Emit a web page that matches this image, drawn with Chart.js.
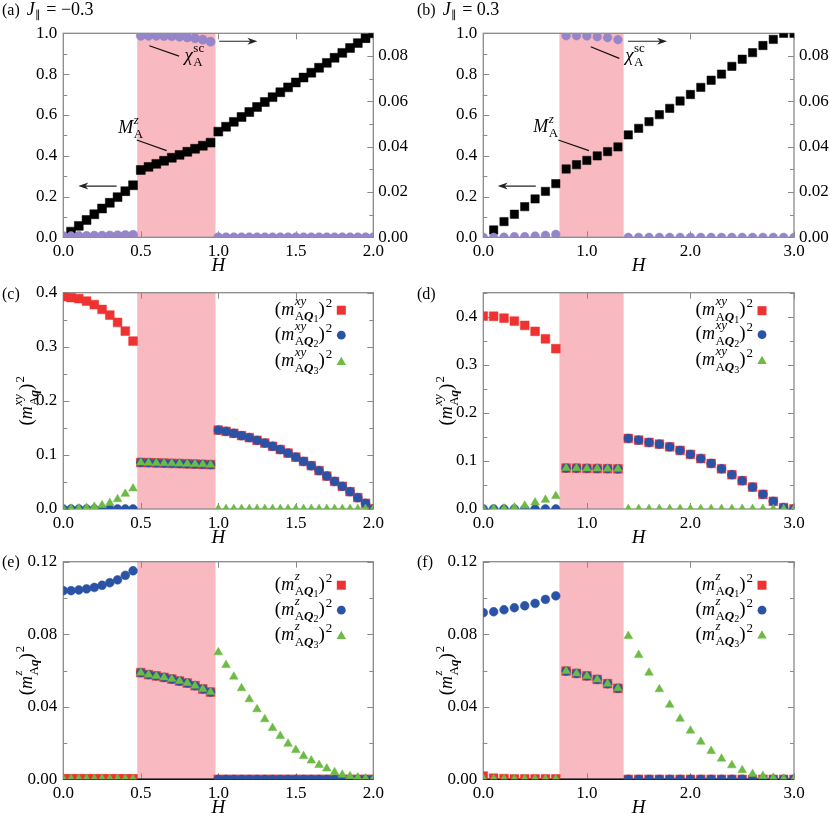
<!DOCTYPE html>
<html>
<head>
<meta charset="utf-8">
<script src="https://cdn.jsdelivr.net/npm/chart.js@4.4.1/dist/chart.umd.min.js"></script>
<style>
  body { margin: 0; background: #fff; width: 830px; height: 817px; position: relative; overflow: hidden; }
  canvas { position: absolute; }
</style>
</head>
<body>
<canvas id="pa"></canvas>
<canvas id="pb"></canvas>
<canvas id="pc"></canvas>
<canvas id="pd"></canvas>
<canvas id="pe"></canvas>
<canvas id="pf"></canvas>
<script>
// field values H
const hA = [0, 0.05, 0.1, 0.15, 0.2, 0.25, 0.3, 0.35, 0.4, 0.45, 0.5, 0.55, 0.6, 0.65, 0.7, 0.75, 0.8, 0.85, 0.9, 0.95,
  1.0, 1.05, 1.1, 1.15, 1.2, 1.25, 1.3, 1.35, 1.4, 1.45, 1.5, 1.55, 1.6, 1.65, 1.7, 1.75, 1.8, 1.85, 1.9, 1.95, 2.0]
const hB = [0, 0.1, 0.2, 0.3, 0.4, 0.5, 0.6, 0.7, 0.8, 0.9, 1.0, 1.1, 1.2, 1.3, 1.4, 1.5, 1.6, 1.7, 1.8, 1.9,
  2.0, 2.1, 2.2, 2.3, 2.4, 2.5, 2.6, 2.7, 2.8, 2.9, 3.0]

// phase boundaries (pink region)
const bandA = [0.477, 0.982]
const bandB = [0.735, 1.355]

// (a) J = -0.3
const mzA = [null, 0.028, 0.056, 0.085, 0.113, 0.141, 0.169, 0.197, 0.226, 0.255,
  0.330, 0.345, 0.360, 0.375, 0.390, 0.404, 0.419, 0.434, 0.449, 0.464,
  0.518, 0.542, 0.566, 0.590, 0.614, 0.639, 0.663, 0.687, 0.711, 0.735, 0.759, 0.783, 0.807, 0.831, 0.855,
  0.880, 0.904, 0.928, 0.952, 0.976, 1.000]
const chiA = [0.0005, 0.0005, 0.0006, 0.0006, 0.0007, 0.0007, 0.0008, 0.0009, 0.0010, 0.0011,
  0.0889, 0.0889, 0.0889, 0.0888, 0.0887, 0.0885, 0.0882, 0.0878, 0.0872, 0.0863,
  0, 0, 0, 0, 0, 0, 0, 0, 0, 0, 0, 0, 0, 0, 0, 0, 0, 0, 0, 0, 0]

// (b) J = 0.3
const mzB = [null, 0.036, 0.077, 0.113, 0.150, 0.188, 0.225, 0.263,
  0.335, 0.356, 0.377, 0.399, 0.420, 0.443,
  0.502, 0.534, 0.567, 0.601, 0.632, 0.668, 0.700, 0.735, 0.770, 0.800, 0.838, 0.873, 0.905, 0.940, 0.970, 1.000, 1.000]
const chiB = [0, 0, 0.0001, 0.0003, 0.0003, 0.0006, 0.0009, 0.0013,
  0.0889, 0.0889, 0.0888, 0.0885, 0.0881, 0.0872,
  0, 0, 0, 0, 0, 0, 0, 0, 0, 0, 0, 0, 0, 0, 0, 0, 0]

// (c) xy components, J = -0.3
const xyQ1A = [0.3926, 0.3910, 0.3890, 0.3846, 0.3780, 0.3690, 0.3587, 0.3450, 0.3290, 0.3106,
  0.0860, 0.0856, 0.0852, 0.0848, 0.0844, 0.0840, 0.0836, 0.0831, 0.0826, 0.0820,
  0.1460, 0.1436, 0.1400, 0.1356, 0.1320, 0.1270, 0.1220, 0.1160, 0.1100, 0.1035, 0.0960, 0.0880, 0.0800,
  0.0710, 0.0610, 0.0510, 0.0420, 0.0320, 0.0210, 0.0105, 0.0000]
const xyQ2A = [0, 0, 0, 0, 0, 0, 0, 0, 0, 0,
  0.0860, 0.0856, 0.0852, 0.0848, 0.0844, 0.0840, 0.0836, 0.0831, 0.0826, 0.0820,
  0.1460, 0.1436, 0.1400, 0.1356, 0.1320, 0.1270, 0.1220, 0.1160, 0.1100, 0.1035, 0.0960, 0.0880, 0.0800,
  0.0710, 0.0610, 0.0510, 0.0420, 0.0320, 0.0210, 0.0105, 0.0000]
const xyQ3A = [0, 0.0005, 0.0010, 0.0020, 0.0040, 0.0070, 0.0110, 0.0180, 0.0280, 0.0380,
  0.0860, 0.0856, 0.0852, 0.0848, 0.0844, 0.0840, 0.0836, 0.0831, 0.0826, 0.0820,
  0, 0, 0, 0, 0, 0, 0, 0, 0, 0, 0, 0, 0, 0, 0, 0, 0, 0, 0, 0, 0]

// (d) xy components, J = 0.3
const xyQ1B = [0.4014, 0.4010, 0.3970, 0.3910, 0.3820, 0.3696, 0.3540, 0.3336,
  0.0852, 0.0848, 0.0845, 0.0842, 0.0838, 0.0835,
  0.1467, 0.1433, 0.1384, 0.1350, 0.1294, 0.1218, 0.1135, 0.1050, 0.0948, 0.0837, 0.0713, 0.0588, 0.0457,
  0.0304, 0.0160, 0.0030, 0.0000]
const xyQ2B = [0, 0, 0, 0, 0, 0, 0, 0,
  0.0852, 0.0848, 0.0845, 0.0842, 0.0838, 0.0835,
  0.1467, 0.1433, 0.1384, 0.1350, 0.1294, 0.1218, 0.1135, 0.1050, 0.0948, 0.0837, 0.0713, 0.0588, 0.0457,
  0.0304, 0.0160, 0.0030, 0.0000]
const xyQ3B = [0, 0.0003, 0.0010, 0.0030, 0.0070, 0.0135, 0.0190, 0.0270,
  0.0852, 0.0848, 0.0845, 0.0842, 0.0838, 0.0835,
  0, 0, 0, 0, 0, 0, 0, 0, 0, 0, 0, 0, 0, 0, 0, 0, 0]

// (e) z components, J = -0.3
const zQ1A = [0.0003, 0.0003, 0.0003, 0.0003, 0.0003, 0.0003, 0.0003, 0.0003, 0.0003, 0.0003,
  0.0588, 0.0577, 0.0570, 0.0562, 0.0553, 0.0542, 0.0531, 0.0516, 0.0498, 0.0481,
  0, 0, 0, 0, 0, 0, 0, 0, 0, 0, 0, 0, 0, 0, 0, 0, 0, 0, 0, 0, 0]
const zQ2A = [0.1040, 0.1040, 0.1044, 0.1050, 0.1058, 0.1070, 0.1084, 0.1100, 0.1125, 0.1150,
  0.0588, 0.0577, 0.0570, 0.0562, 0.0553, 0.0542, 0.0531, 0.0516, 0.0498, 0.0481,
  0, 0, 0, 0, 0, 0, 0, 0, 0, 0, 0, 0, 0, 0, 0, 0, 0, 0, 0, 0, 0]
const zQ3A = [0.0002, 0.0002, 0.0002, 0.0002, 0.0002, 0.0002, 0.0002, 0.0002, 0.0002, 0.0002,
  0.0588, 0.0577, 0.0570, 0.0562, 0.0553, 0.0542, 0.0531, 0.0516, 0.0498, 0.0481,
  0.0700, 0.0630, 0.0566, 0.0502, 0.0441, 0.0386, 0.0331, 0.0283, 0.0239, 0.0196, 0.0162, 0.0128, 0.0103,
  0.0079, 0.0059, 0.0039, 0.0025, 0.0017, 0.0010, 0.0004, 0.0001]

// (f) z components, J = 0.3
const zQ1B = [0.0018, 0.0006, 0.0004, 0.0002, 0.0002, 0.0002, 0.0002, 0.0002,
  0.0597, 0.0584, 0.0570, 0.0551, 0.0527, 0.0502,
  0, 0, 0, 0, 0, 0, 0, 0, 0, 0, 0, 0, 0, 0, 0, 0, 0]
const zQ2B = [0.0919, 0.0924, 0.0935, 0.0946, 0.0957, 0.0970, 0.0992, 0.1012,
  0.0597, 0.0584, 0.0570, 0.0551, 0.0527, 0.0502,
  0, 0, 0, 0, 0, 0, 0, 0, 0, 0, 0, 0, 0, 0, 0, 0, 0]
const zQ3B = [0.0003, 0.0002, 0.0001, 0.0001, 0.0001, 0.0001, 0.0001, 0.0001,
  0.0597, 0.0584, 0.0570, 0.0551, 0.0527, 0.0502,
  0.0790, 0.0685, 0.0588, 0.0496, 0.0411, 0.0334, 0.0268, 0.0207, 0.0156, 0.0114, 0.0077, 0.0050, 0.0029,
  0.0018, 0.0008, 0.0003, 0.0000]

const qIndex = ['1', '2', '3']

const RED = '#ee3232', BLUE = '#2a52a5', GREEN = '#6dbb45', PURPLE = '#9585c9', PINK = '#f8b9c0', FRAME = '#8a8a8a'
const SERIF = "'Liberation Serif', serif"
const fr = s => `${s}px ${SERIF}`
const fi = s => `italic ${s}px ${SERIF}`
const fbi = s => `italic bold ${s}px ${SERIF}`

// layout of the 6 panels (page pixels)
const COLS = [{cx: 0, left: 63.3, right: 373.3}, {cx: 415, left: 483.3, right: 794}]
const ROWS = [
  {cy: 0, ch: 285, top: 33.3, bottom: 237.3},
  {cy: 270, ch: 285, top: 292.7, bottom: 509},
  {cy: 540, ch: 277, top: 561.7, bottom: 779.3}
]

// ---- little math-text helper ----
function runW(ctx, r) {
  if (r.stack) return Math.max(runsW(ctx, r.sup), runsW(ctx, r.sub))
  ctx.font = r.f
  return ctx.measureText(r.t).width + (r.sp || 0)
}
function runsW(ctx, runs) {
  let w = 0
  runs.forEach(r => { w += runW(ctx, r) })
  return w
}
function drawRuns(ctx, runs, x, y) {
  runs.forEach(r => {
    if (r.stack) {
      drawRuns(ctx, r.sup, x, y + r.supDy)
      drawRuns(ctx, r.sub, x, y + r.subDy)
      x += runW(ctx, r)
    } else {
      ctx.font = r.f
      ctx.fillText(r.t, x, y + (r.dy || 0))
      x += ctx.measureText(r.t).width + (r.sp || 0)
    }
  })
}
function mRuns(sup, q, idx) {
  const sub = [{t: 'A', f: fr(13)}, {t: q, f: fbi(13)}]
  if (idx) sub.push({t: idx, f: fr(10), dy: 2})
  return [
    {t: '(', f: fr(19)}, {t: 'm', f: fi(18), sp: 0.5},
    {stack: true, sup: [{t: sup, f: fi(13)}], sub, supDy: -10, subDy: 5.5},
    {t: ')', f: fr(19), sp: 1}, {t: '2', f: fr(13), dy: -8}
  ]
}
const chiRuns = [{t: 'χ', f: fi(19), sp: 0.5},
  {stack: true, sup: [{t: 'sc', f: fr(13)}], sub: [{t: 'A', f: fr(13)}], supDy: -9, subDy: 5}]
const mzRuns = [{t: 'M', f: fi(18), sp: 0.5},
  {stack: true, sup: [{t: 'z', f: fi(13)}], sub: [{t: 'A', f: fr(13)}], supDy: -9, subDy: 5}]

function marker(ctx, style, x, y, color) {
  ctx.fillStyle = color
  ctx.beginPath()
  if (style === 'rect') ctx.rect(x - 4.5, y - 4.5, 9, 9)
  else if (style === 'circle') ctx.arc(x, y, 4.4, 0, Math.PI * 2)
  else { ctx.moveTo(x, y - 5); ctx.lineTo(x + 4.7, y + 3.3); ctx.lineTo(x - 4.7, y + 3.3); ctx.closePath() }
  ctx.fill()
}

function arrow(ctx, x0, y0, x1, y1) {
  const a = Math.atan2(y1 - y0, x1 - x0)
  ctx.strokeStyle = '#222'; ctx.fillStyle = '#222'; ctx.lineWidth = 1.2
  ctx.beginPath(); ctx.moveTo(x0, y0); ctx.lineTo(x1 - 6 * Math.cos(a), y1 - 6 * Math.sin(a)); ctx.stroke()
  ctx.beginPath()
  ctx.moveTo(x1, y1)
  ctx.lineTo(x1 - 10 * Math.cos(a) - 3.5 * Math.sin(a), y1 - 10 * Math.sin(a) + 3.5 * Math.cos(a))
  ctx.lineTo(x1 - 7 * Math.cos(a), y1 - 7 * Math.sin(a))
  ctx.lineTo(x1 - 10 * Math.cos(a) + 3.5 * Math.sin(a), y1 - 10 * Math.sin(a) - 3.5 * Math.cos(a))
  ctx.closePath(); ctx.fill()
}

function panelPlugin(p) {
  const col = COLS[p.col], row = ROWS[p.row]
  return {
    id: 'deco_' + p.id,
    beforeDatasetsDraw(chart) {
      const {ctx, chartArea: ca, scales} = chart
      const sx = scales.x, sy = scales.y
      ctx.save()
      ctx.fillStyle = PINK
      const b0 = sx.getPixelForValue(p.band[0]), b1 = sx.getPixelForValue(p.band[1])
      ctx.fillRect(b0, ca.top, b1 - b0, ca.bottom - ca.top)
      ctx.strokeStyle = FRAME
      ctx.lineWidth = 1.3
      ctx.strokeRect(ca.left, ca.top, ca.right - ca.left, ca.bottom - ca.top)
      ctx.lineWidth = 1
      ctx.beginPath()
      // left ticks (major + minor), mirrored unless there is a right axis
      for (let v = 0; v <= p.yMax + 1e-9; v += p.yMinor) {
        const py = Math.round(sy.getPixelForValue(v)) + 0.5
        const isMajor = Math.abs(v / p.yStep - Math.round(v / p.yStep)) < 1e-6
        const len = isMajor ? 6 : 4
        ctx.moveTo(ca.left, py); ctx.lineTo(ca.left + len, py)
        if (!p.y2) { ctx.moveTo(ca.right, py); ctx.lineTo(ca.right - len, py) }
      }
      if (p.y2) {
        const s2 = scales.y2
        for (let v = 0; v <= 0.09 + 1e-9; v += 0.01) {
          const py = Math.round(s2.getPixelForValue(v)) + 0.5
          const isMajor = Math.abs(v / 0.02 - Math.round(v / 0.02)) < 1e-6
          ctx.moveTo(ca.right, py); ctx.lineTo(ca.right - (isMajor ? 6 : 4), py)
        }
      }
      sx.ticks.forEach(t => {
        const px = Math.round(sx.getPixelForValue(t.value)) + 0.5
        ctx.moveTo(px, ca.bottom); ctx.lineTo(px, ca.bottom - 6)
        ctx.moveTo(px, ca.top); ctx.lineTo(px, ca.top + 6)
      })
      ctx.stroke()
      if (p.zeroLine) {
        ctx.strokeStyle = '#111'; ctx.lineWidth = 1.4
        const py = sy.getPixelForValue(0)
        ctx.beginPath(); ctx.moveTo(ca.left, py); ctx.lineTo(ca.right, py); ctx.stroke()
      }
      ctx.restore()
    },
    afterDatasetsDraw(chart) {
      const {ctx, chartArea: ca, scales} = chart
      const sx = scales.x, sy = scales.y
      ctx.save()
      ctx.fillStyle = '#000'
      ctx.textAlign = 'left'
      ctx.textBaseline = 'alphabetic'
      // panel label
      const lab = [{t: '(' + p.label + ')', f: fr(16), sp: 7}]
      if (p.J) lab.push({t: 'J', f: fi(18), sp: 0.5}, {t: '∥', f: fr(11), dy: 3, sp: 5}, {t: '= ' + p.J, f: fr(18)})
      drawRuns(ctx, lab, 2, p.labelY - row.cy)
      // x title
      ctx.font = fi(19)
      ctx.textAlign = 'center'
      ctx.fillText('H', (ca.left + ca.right) / 2, ca.bottom + 34)
      ctx.textAlign = 'left'
      // y title
      if (p.ytitle) {
        ctx.save()
        ctx.translate(ca.left - 31, (ca.top + ca.bottom) / 2)
        ctx.rotate(-Math.PI / 2)
        const runs = mRuns(p.ytitle, 'q')
        drawRuns(ctx, runs, -runsW(ctx, runs) / 2, 0)
        ctx.restore()
      }
      // legend
      if (p.legend) {
        p.legend.forEach((it, i) => {
          const y = ca.top + p.legendY[i]
          const runs = mRuns(p.ytitle, 'Q', qIndex[i])
          ctx.fillStyle = '#000'
          drawRuns(ctx, runs, ca.right - 41 - runsW(ctx, runs), y + 4.5)
          marker(ctx, it.style, ca.right - 32, y, it.color)
        })
      }
      // annotations for (a), (b)
      if (p.ann) {
        const X = v => sx.getPixelForValue(v), Y = v => sy.getPixelForValue(v)
        p.ann.arrows.forEach(a => arrow(ctx, X(a[0]), Y(a[1]), X(a[2]), Y(a[3])))
        ctx.strokeStyle = '#111'; ctx.lineWidth = 1.2
        ctx.beginPath()
        ctx.moveTo(X(p.ann.chiLine[0]), Y(p.ann.chiLine[1])); ctx.lineTo(X(p.ann.chiLine[2]), Y(p.ann.chiLine[3]))
        ctx.moveTo(X(p.ann.mLine[0]), Y(p.ann.mLine[1])); ctx.lineTo(X(p.ann.mLine[2]), Y(p.ann.mLine[3]))
        ctx.stroke()
        ctx.fillStyle = '#000'
        drawRuns(ctx, chiRuns, X(p.ann.chiText[0]), Y(p.ann.chiText[1]))
        drawRuns(ctx, mzRuns, X(p.ann.mText[0]), Y(p.ann.mText[1]))
      }
      ctx.restore()
    }
  }
}

const pts = (xs, ys) => xs.map((x, i) => ({x, y: ys[i]})).filter(q => q.y !== null)

function ds(xs, ys, style, color, order, extra) {
  const sizes = {rect: 6.2, circle: 4.4, triangle: 5.0}
  return Object.assign({
    data: pts(xs, ys), pointStyle: style, pointRadius: sizes[style],
    pointBackgroundColor: color, pointBorderColor: color, pointBorderWidth: 0.5, order
  }, extra || {})
}

function makePanel(p) {
  const col = COLS[p.col], row = ROWS[p.row]
  const canvas = document.getElementById(p.id)
  canvas.width = 415
  canvas.height = row.ch
  canvas.style.left = col.cx + 'px'
  canvas.style.top = row.cy + 'px'
  const yW = col.left - col.cx, rW = col.cx + 415 - col.right
  const topPad = row.top - row.cy, xH = row.cy + row.ch - row.bottom
  const tickFont = {family: SERIF, size: 17}
  const scales = {
    x: {
      type: 'linear', min: 0, max: p.xMax,
      grid: {display: false, drawTicks: false}, border: {display: false},
      ticks: {stepSize: p.xStep, font: tickFont, color: '#000', padding: 4, maxRotation: 0, autoSkip: false,
        callback: v => v.toFixed(1)},
      afterFit: s => { s.height = xH }
    },
    y: {
      type: 'linear', position: 'left', min: 0, max: p.yMax,
      grid: {display: false, drawTicks: false}, border: {display: false},
      ticks: {stepSize: p.yStep, includeBounds: false, font: tickFont, color: '#000', padding: 6,
        callback: v => v.toFixed(p.yDec)},
      afterFit: s => { s.width = yW }
    }
  }
  if (p.y2) {
    scales.y2 = {
      type: 'linear', position: 'right', min: 0, max: 0.09,
      grid: {display: false, drawTicks: false}, border: {display: false},
      ticks: {stepSize: 0.02, includeBounds: false, font: tickFont, color: '#000', padding: 5,
        callback: v => v.toFixed(2)},
      afterFit: s => { s.width = rW }
    }
  }
  new Chart(canvas, {
    type: 'scatter',
    data: {datasets: p.datasets},
    options: {
      responsive: false, animation: false, events: [],
      layout: {padding: {top: topPad, right: p.y2 ? 0 : rW, left: 0, bottom: 0}},
      plugins: {legend: {display: false}, tooltip: {enabled: false}},
      scales
    },
    plugins: [panelPlugin(p)]
  })
}

const legendItems = [{style: 'rect', color: RED}, {style: 'circle', color: BLUE}, {style: 'triangle', color: GREEN}]

const panels = [
  {id: 'pa', col: 0, row: 0, label: 'a', J: '−0.3', labelY: 15, xMax: 2, xStep: 0.5, yMax: 1, yStep: 0.2, yMinor: 0.1,
    yDec: 1, y2: true, band: bandA,
    ann: {arrows: [[1.006, 0.961, 1.252, 0.961], [0.344, 0.251, 0.097, 0.251]],
      chiLine: [0.555, 0.939, 0.747, 0.888], chiText: [0.782, 0.862],
      mLine: [0.474, 0.477, 0.667, 0.425], mText: [0.355, 0.511]},
    datasets: [
      ds(hA, mzA, 'rect', '#000', 1, {pointRadius: 6.3}),
      ds(hA, chiA, 'circle', PURPLE, 0, {yAxisID: 'y2', pointRadius: 4.6})
    ]},
  {id: 'pb', col: 1, row: 0, label: 'b', J: '0.3', labelY: 15, xMax: 3, xStep: 1, yMax: 1, yStep: 0.2, yMinor: 0.1,
    yDec: 1, y2: true, band: bandB,
    ann: {arrows: [[1.397, 0.961, 1.774, 0.961], [0.507, 0.251, 0.139, 0.251]],
      chiLine: [1.037, 0.934, 1.313, 0.877], chiText: [1.37, 0.862],
      mLine: [0.724, 0.477, 1.02, 0.425], mText: [0.483, 0.518]},
    datasets: [
      ds(hB, mzB, 'rect', '#000', 1, {pointRadius: 5.9}),
      ds(hB, chiB, 'circle', PURPLE, 0, {yAxisID: 'y2', pointRadius: 4.3})
    ]},
  {id: 'pc', col: 0, row: 1, label: 'c', labelY: 299, xMax: 2, xStep: 0.5, yMax: 0.4, yStep: 0.1, yMinor: 0.05,
    yDec: 1, band: bandA, ytitle: 'xy', legend: legendItems, legendY: [17.5, 42.5, 69],
    datasets: [
      ds(hA, xyQ1A, 'rect', RED, 2), ds(hA, xyQ2A, 'circle', BLUE, 1), ds(hA, xyQ3A, 'triangle', GREEN, 0)
    ]},
  {id: 'pd', col: 1, row: 1, label: 'd', labelY: 299, xMax: 3, xStep: 1, yMax: 0.45, yStep: 0.1, yMinor: 0.05,
    yDec: 1, band: bandB, ytitle: 'xy', legend: legendItems, legendY: [18, 42, 68],
    datasets: [
      ds(hB, xyQ1B, 'rect', RED, 2), ds(hB, xyQ2B, 'circle', BLUE, 1), ds(hB, xyQ3B, 'triangle', GREEN, 0)
    ]},
  {id: 'pe', col: 0, row: 2, label: 'e', labelY: 567, xMax: 2, xStep: 0.5, yMax: 0.12, yStep: 0.04, yMinor: 0.02,
    yDec: 2, band: bandA, ytitle: 'z', zeroLine: true, legend: legendItems, legendY: [23.5, 48.5, 74],
    datasets: [
      ds(hA, zQ1A, 'rect', RED, 2), ds(hA, zQ2A, 'circle', BLUE, 1), ds(hA, zQ3A, 'triangle', GREEN, 0)
    ]},
  {id: 'pf', col: 1, row: 2, label: 'f', labelY: 567, xMax: 3, xStep: 1, yMax: 0.12, yStep: 0.04, yMinor: 0.02,
    yDec: 2, band: bandB, ytitle: 'z', zeroLine: true, legend: legendItems, legendY: [23.5, 48.5, 73.5],
    datasets: [
      ds(hB, zQ1B, 'rect', RED, 2), ds(hB, zQ2B, 'circle', BLUE, 1), ds(hB, zQ3B, 'triangle', GREEN, 0)
    ]}
]

const fontLoads = ['17px', 'italic 17px', 'italic bold 13px'].map(f => document.fonts.load(`${f} 'Liberation Serif'`))
Promise.all(fontLoads).catch(() => null).then(() => panels.forEach(makePanel))
</script>
</body>
</html>
